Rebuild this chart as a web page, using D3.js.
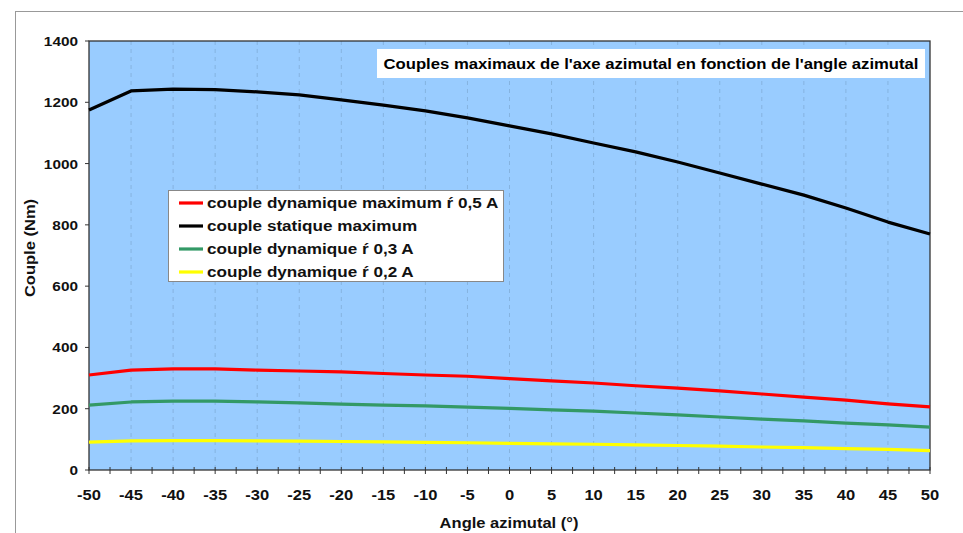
<!DOCTYPE html>
<html><head><meta charset="utf-8">
<script src="https://cdn.jsdelivr.net/npm/d3@7"></script>
<style>body{margin:0;background:#fff;}svg{display:block;font-family:Arial,"Liberation Sans",sans-serif;}</style>
</head><body>
<svg id="c" width="963" height="533"></svg>
<script>
const angles = [-50,-45,-40,-35,-30,-25,-20,-15,-10,-5,0,5,10,15,20,25,30,35,40,45,50];
const staticMax = [1175,1237,1243,1241,1234,1224,1208,1191,1172,1149,1123,1097,1067,1038,1005,969,933,897,855,809,770];
const dyn05 = [310,326,330,330,326,323,320,315,310,306,298,291,284,275,267,258,248,238,228,216,206];
const dyn03 = [212,222,225,225,222,219,215,212,209,205,201,196,192,186,180,173,166,160,153,147,140];
const dyn02 = [91,95,96,96,95,94,93,92,90,89,87,85,84,82,80,78,75,73,70,67,63];
const yTicks = [0,200,400,600,800,1000,1200,1400];
const xTicks = angles;
const seriesNames = ["couple dynamique maximum \u0155 0,5 A","couple statique maximum","couple dynamique \u0155 0,3 A","couple dynamique \u0155 0,2 A"];
const seriesColors = ["#ff0000","#000000","#339966","#ffff00"];
const seriesData = [dyn05, staticMax, dyn03, dyn02];
const titleText = "Couples maximaux de l'axe azimutal en fonction de l'angle azimutal";

const svg = d3.select("#c");
const L=89,R=930,T=41,B=470;
const x = d3.scaleLinear().domain([-50,50]).range([L,R]);
const y = d3.scaleLinear().domain([0,1400]).range([B,T]);
const STRETCH = 1.18;
function stretch(sel){
  sel.each(function(){
    const len = this.getComputedTextLength();
    d3.select(this).attr("textLength", len*STRETCH).attr("lengthAdjust","spacingAndGlyphs");
  });
}

// outer frame
svg.append("rect").attr("x",15.5).attr("y",11.5).attr("width",960).attr("height",540)
  .attr("fill","none").attr("stroke","#999").attr("stroke-width",1);

// plot background
svg.append("rect").attr("x",L).attr("y",T).attr("width",R-L).attr("height",B-T).attr("fill","#99ccff");

// vertical dashed gridlines
svg.append("g").selectAll("line").data(xTicks.slice(1,-1)).join("line")
  .attr("x1",d=>x(d)).attr("x2",d=>x(d)).attr("y1",T).attr("y2",B)
  .attr("stroke","#85b3e0").attr("stroke-width",1).attr("stroke-dasharray","4,4");

// border
svg.append("rect").attr("x",L).attr("y",T).attr("width",R-L).attr("height",B-T)
  .attr("fill","none").attr("stroke","#333").attr("stroke-width",1.3);

// x axis ticks (every 2.5)
const minor = d3.range(-50,50.01,2.5);
svg.append("g").selectAll("line").data(minor).join("line")
  .attr("x1",d=>x(d)).attr("x2",d=>x(d)).attr("y1",B-3).attr("y2",B+4)
  .attr("stroke","#333").attr("stroke-width",1);
svg.append("g").selectAll("text").data(xTicks).join("text")
  .attr("x",d=>x(d)).attr("y",500).attr("text-anchor","middle")
  .attr("font-size",14).attr("font-weight","bold").attr("fill","#111").text(d=>d).call(stretch);

// y axis
svg.append("g").selectAll("line").data(yTicks).join("line")
  .attr("x1",L-4).attr("x2",L).attr("y1",d=>y(d)).attr("y2",d=>y(d))
  .attr("stroke","#333");
svg.append("g").selectAll("text").data(yTicks).join("text")
  .attr("x",78).attr("y",d=>y(d)+5).attr("text-anchor","end")
  .attr("font-size",13).attr("font-weight","bold").attr("fill","#111").text(d=>d).call(stretch);

// axis titles
svg.append("text").attr("x",509).attr("y",528).attr("text-anchor","middle")
  .attr("font-size",14).attr("font-weight","bold").attr("fill","#111").text("Angle azimutal  (\u00b0)").call(stretch);
svg.append("text").attr("transform","translate(35,248) rotate(-90)").attr("text-anchor","middle")
  .attr("font-size",14).attr("font-weight","bold").attr("fill","#111").text("Couple (Nm)").call(stretch);

// lines
const line = d3.line().x((d,i)=>x(angles[i])).y(d=>y(d));
[3,2,0,1].forEach(k=>{
  svg.append("path").datum(seriesData[k]).attr("d",line)
    .attr("fill","none").attr("stroke",seriesColors[k]).attr("stroke-width",3.2).attr("stroke-linejoin","round");
});

// title box
svg.append("rect").attr("x",377).attr("y",49).attr("width",548).attr("height",29).attr("fill","#fff");
svg.append("text").attr("x",651).attr("y",68.5).attr("text-anchor","middle")
  .attr("font-size",14.5).attr("font-weight","bold").attr("fill","#000").text(titleText)
  .attr("textLength",535).attr("lengthAdjust","spacingAndGlyphs");

// legend
const lg = svg.append("g");
lg.append("rect").attr("x",168.5).attr("y",190.5).attr("width",335).attr("height",91)
  .attr("fill","#fff").attr("stroke","#888").attr("stroke-width",1);
seriesNames.forEach((n,i)=>{
  const yy = 203 + i*23;
  lg.append("line").attr("x1",179).attr("x2",203).attr("y1",yy).attr("y2",yy)
    .attr("stroke",seriesColors[i]).attr("stroke-width",3.2);
  lg.append("text").attr("x",207).attr("y",yy+5).attr("font-size",14.5).attr("font-weight","bold")
    .attr("fill","#111").text(n).call(stretch);
});
</script>
</body></html>
